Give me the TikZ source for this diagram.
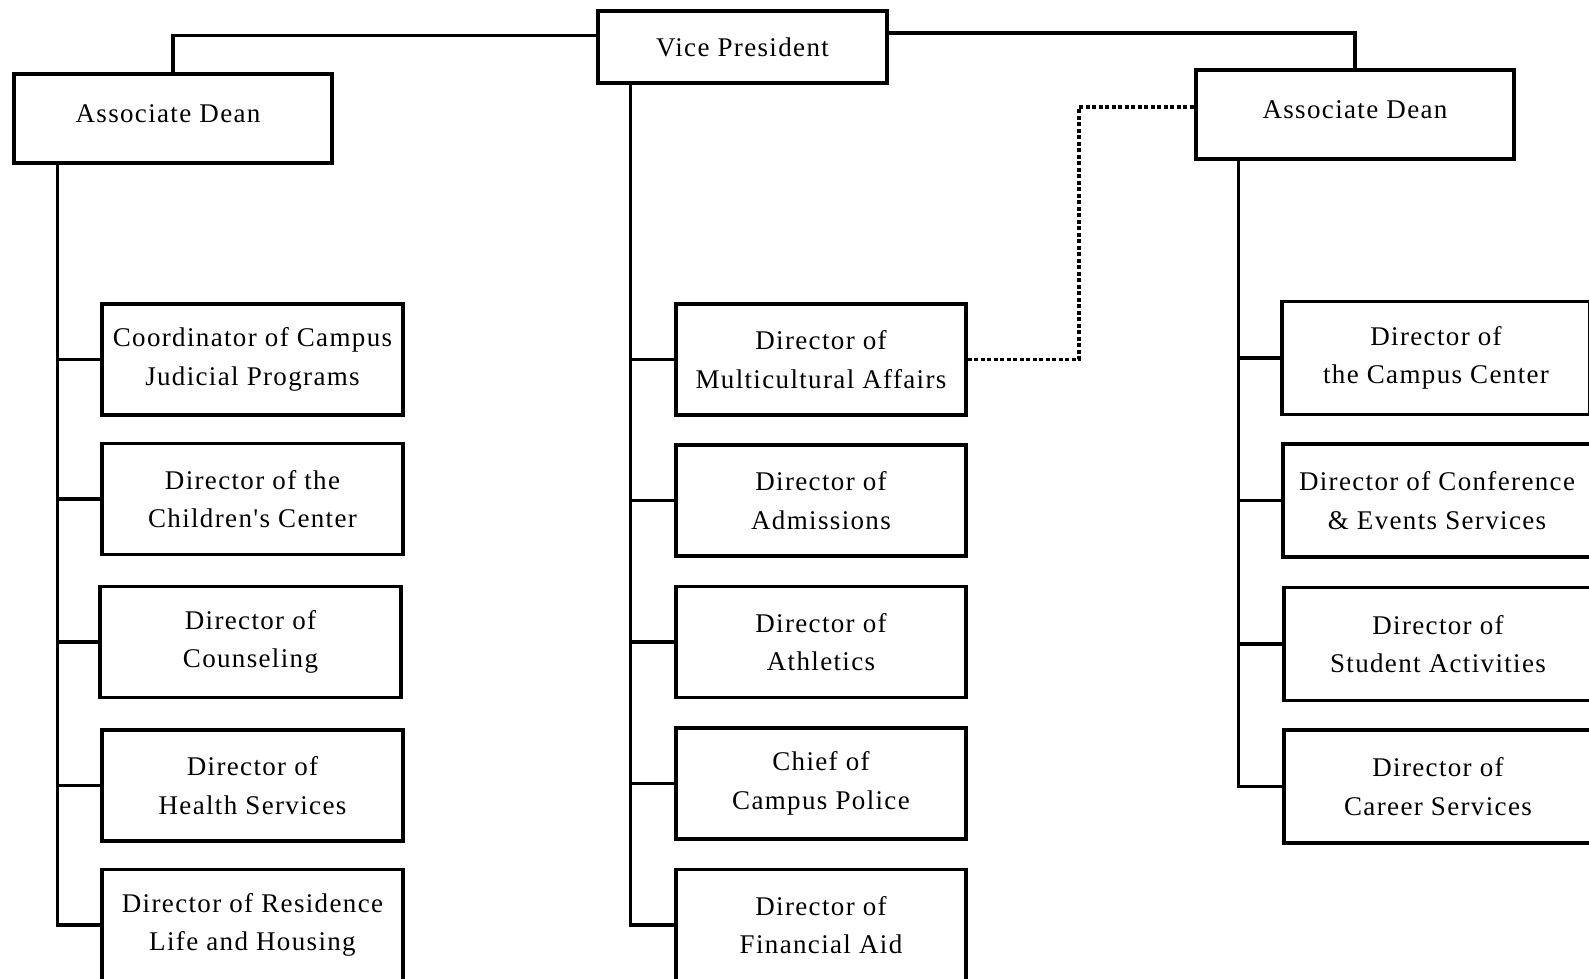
\documentclass[tikz,border=0pt]{standalone}
\usepackage{fontspec}
\setmainfont[LetterSpace=5, Ligatures=TeXOff]{Liberation Serif}

\begin{document}
\begin{tikzpicture}[x=1pt, y=-1pt, line width=3.2pt,
    post/.style={draw, fill=white, align=center, inner sep=0pt,
        font=\fontsize{27}{38.5}\selectfont},
    deanpost/.style={post, minimum width=318pt, minimum height=89pt, text depth=10pt},
    leftpost/.style={post, minimum width=301pt, minimum height=111pt},
    midpost/.style={post, minimum width=290pt, minimum height=111pt},
    rightpost/.style={post, minimum width=308pt, minimum height=113pt},
    dots/.style={dash pattern=on 4pt off 2.5pt}]
    % 1. Frame of the page
    \useasboundingbox (0,0) rectangle (1589,979);
    \clip (0,0) rectangle (1589,979);

    % 2. Top of the chart
    \node[post, minimum width=289pt, minimum height=72pt] (vp) at (742.5,47) {Vice President};
    \node[deanpost] (adl) at (173,118.5) {\hspace*{-10pt}Associate Dean};
    \node[deanpost] (adr) at (1355,114.5) {Associate Dean};

    % 3. Left column
    \node[leftpost] (l1) at (252.5,359.5) {Coordinator of Campus\\Judicial Programs};
    \node[leftpost] (l2) at (252.5,499) {Director of the\\Children's Center};
    \node[leftpost] (l3) at (250.5,642) {Director of\\Counseling};
    \node[leftpost] (l4) at (252.5,785.5) {Director of\\Health Services};
    \node[leftpost] (l5) at (252.5,925) {Director of Residence\\Life and Housing};

    % 4. Middle column
    \node[midpost] (m1) at (821,359.5) {Director of\\Multicultural Affairs};
    \node[midpost] (m2) at (821,500.5) {Director of\\Admissions};
    \node[midpost] (m3) at (821,642) {Director of\\Athletics};
    \node[midpost] (m4) at (821,783.5) {Chief of\\Campus Police};
    \node[midpost] (m5) at (821,925) {Director of\\Financial Aid};

    % 5. Right column (runs off the page)
    \node[rightpost] (r1) at (1436,358) {Director of\\the Campus Center};
    \node[rightpost] (r2) at (1437,500.5) {Director of Conference\\\& Events Services};
    \node[rightpost] (r3) at (1438,644) {Director of\\Student Activities};
    \node[rightpost] (r4) at (1438,786.5) {Director of\\Career Services};

    % 6. Links from the Vice President to the deans
    \draw ([yshift=11.5pt]vp.west) -| (adl.north);
    \draw ([yshift=14pt]vp.east) -| (adr.north);

    % 7. Trunks
    \coordinate (lt) at ([xshift=45pt]adl.south west);
    \coordinate (mt) at ([xshift=34pt]vp.south west);
    \coordinate (rt) at ([xshift=44pt]adr.south west);

    \foreach \n in {l1,l2,l3,l4,l5}
        \draw (lt) |- (\n.west);
    \foreach \n in {m1,m2,m3,m4,m5}
        \draw (mt) |- (\n.west);
    \foreach \n in {r1,r2,r3,r4}
        \draw (rt) |- (\n.west);

    % 8. Dotted link to the right dean
    \coordinate (bend) at (1079,107);
    \draw[dots] (m1.east) -| (bend) -- (bend -| adr.west);
\end{tikzpicture}
\end{document}
